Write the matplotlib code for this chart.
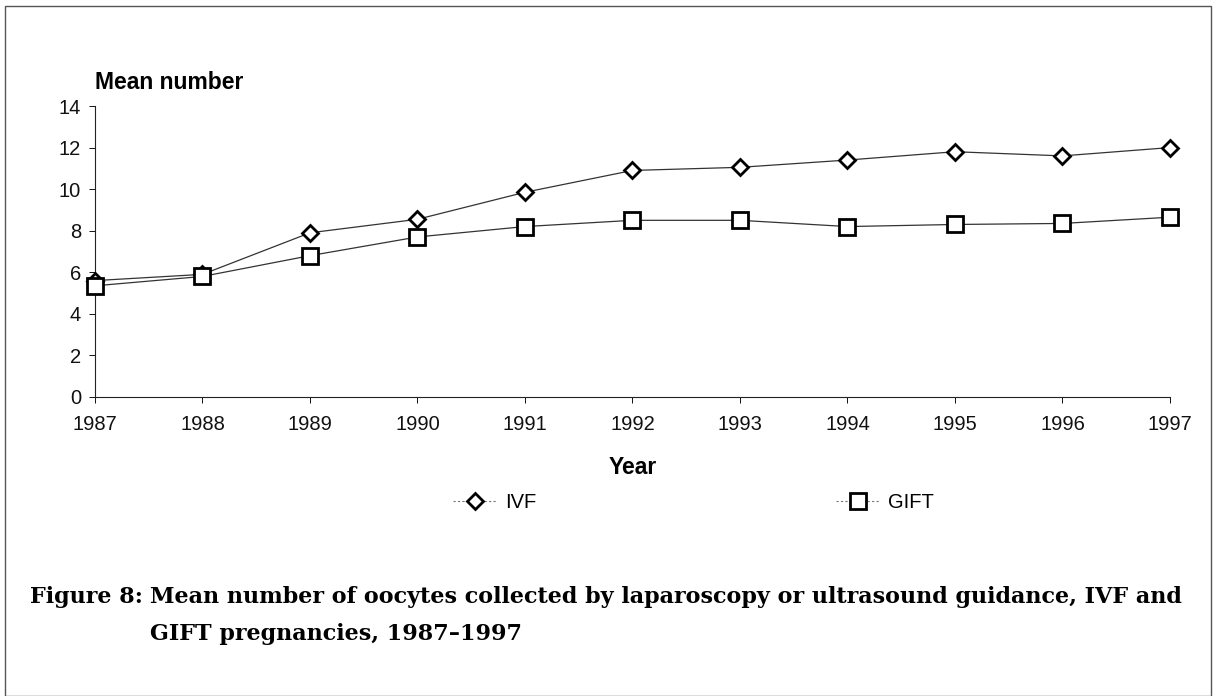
import matplotlib.pyplot as plt
from matplotlib.lines import Line2D
from matplotlib.patches import Rectangle

years = [1987, 1988, 1989, 1990, 1991, 1992, 1993, 1994, 1995, 1996, 1997]
ivf = [5.6, 5.9, 7.9, 8.55, 9.85, 10.9, 11.05, 11.4, 11.8, 11.6, 12.0]
gift = [5.35, 5.8, 6.8, 7.7, 8.2, 8.5, 8.5, 8.2, 8.3, 8.35, 8.65]
yticks = [0, 2, 4, 6, 8, 10, 12, 14]

plt.rcParams['font.family'] = ['Liberation Sans', 'DejaVu Sans']
serif = ['DejaVu Serif', 'Liberation Serif']

fig = plt.figure(figsize=(12.16, 6.96), dpi=100)
ax = fig.add_axes([95 / 1216, 1 - 397 / 696, 1075 / 1216, 291 / 696])

ax.plot(years, ivf, color='#333333', lw=0.9, marker='D', ms=8.5,
        mfc='white', mec='black', mew=2.0, clip_on=False, zorder=3)
ax.plot(years, gift, color='#333333', lw=0.9, marker='s', ms=12,
        mfc='white', mec='black', mew=2.0, clip_on=False, zorder=3)

ax.set_xlim(years[0], years[-1])
ax.set_ylim(0, 14)
ax.set_xticks(years)
ax.set_yticks(yticks)
for s in ['top', 'right']:
    ax.spines[s].set_visible(False)
for s in ['left', 'bottom']:
    ax.spines[s].set_linewidth(0.8)
    ax.spines[s].set_color('#222222')
ax.tick_params(axis='both', direction='out', length=4, width=0.7,
               labelsize=14.5, colors='#111111')
ax.tick_params(axis='x', pad=9)
ax.tick_params(axis='y', pad=6)

ax.text(0, 1.04, 'Mean number', transform=ax.transAxes, fontsize=16.5,
        fontweight='bold', ha='left', va='bottom')
ax.set_xlabel('Year', fontsize=16.5, fontweight='bold', labelpad=16)

ivf_h = Line2D([], [], color='#777777', lw=0.8, ls=(0, (2, 2)), marker='D',
               ms=8, mfc='white', mec='black', mew=2.0)
gift_h = Line2D([], [], color='#777777', lw=0.8, ls=(0, (2, 2)), marker='s',
                ms=11, mfc='white', mec='black', mew=2.0)
ly = 1 - 503 / 696
for h, lab, x0 in [(ivf_h, 'IVF', 453), (gift_h, 'GIFT', 836)]:
    leg = fig.legend([h], [lab], loc='center left',
                     bbox_to_anchor=(x0 / 1216, ly), frameon=False,
                     fontsize=14.5, handlelength=2.2, handletextpad=0.4,
                     borderpad=0, borderaxespad=0)

cap_kw = dict(fontsize=16, family=serif, fontweight='bold',
              va='center', ha='left')
fig.text(30 / 1216, 1 - 597 / 696, 'Figure 8:', **cap_kw)
fig.text(150 / 1216, 1 - 597 / 696,
         'Mean number of oocytes collected by laparoscopy or ultrasound guidance, IVF and',
         **cap_kw)
fig.text(150 / 1216, 1 - 634 / 696, 'GIFT pregnancies, 1987\u20131997', **cap_kw)

fig.patches.append(Rectangle((5 / 1216, 0.0), 1206 / 1216, 1 - 6 / 696,
                             transform=fig.transFigure, fill=False,
                             edgecolor='#555555', lw=1.0))

fig.savefig('out.png', dpi=100)
